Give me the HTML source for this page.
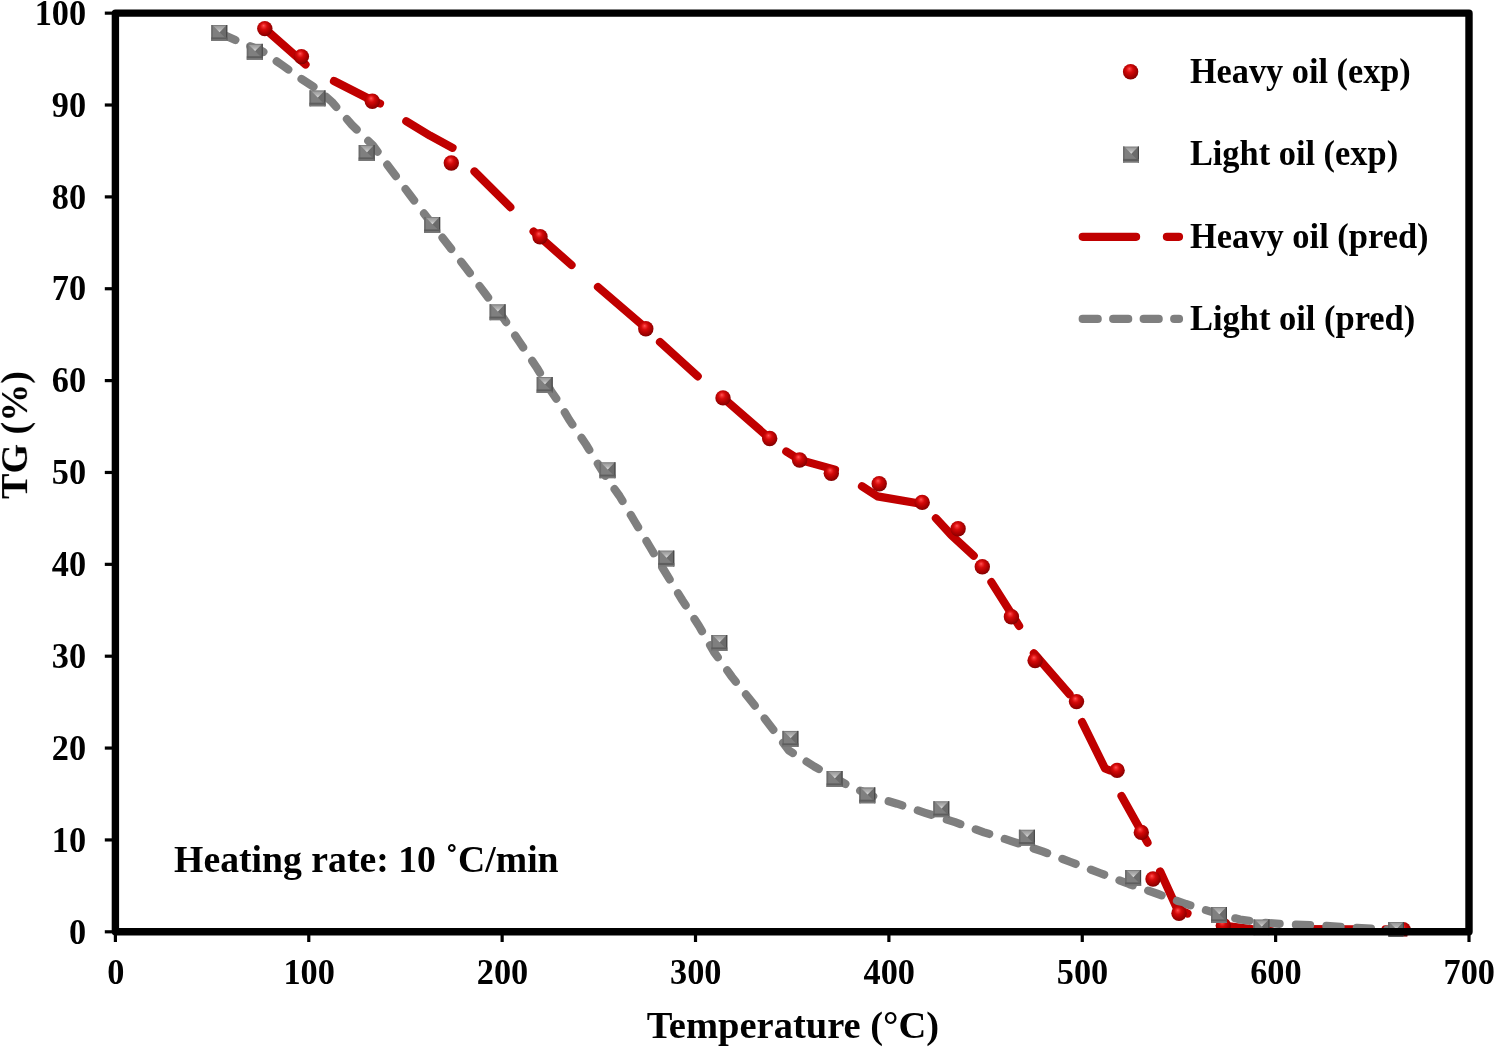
<!DOCTYPE html>
<html><head><meta charset="utf-8"><title>TG chart</title>
<style>
html,body{margin:0;padding:0;background:#fff;}
body{width:1494px;height:1047px;overflow:hidden;}
svg{display:block;}
text{font-family:"Liberation Serif",serif;font-weight:bold;fill:#000;}
</style></head><body>
<svg width="1494" height="1047" viewBox="0 0 1494 1047">
<defs>
<radialGradient id="sph" cx="0.45" cy="0.42" r="0.62" fx="0.42" fy="0.30">
<stop offset="0" stop-color="#ff5858"/>
<stop offset="0.14" stop-color="#f23030"/>
<stop offset="0.36" stop-color="#d40a0a"/>
<stop offset="0.62" stop-color="#b40202"/>
<stop offset="0.86" stop-color="#920000"/>
<stop offset="1" stop-color="#6c0000"/>
</radialGradient>
<linearGradient id="sqtop" x1="0" y1="0" x2="0" y2="1">
<stop offset="0" stop-color="#9a9a9a"/>
<stop offset="0.55" stop-color="#b4b4b4"/>
<stop offset="1" stop-color="#e2e2e2"/>
</linearGradient>
<symbol id="sq" width="16" height="16" viewBox="0 0 16 16" overflow="visible">
<rect x="0" y="0" width="16" height="16" fill="#7f7f7f"/>
<rect x="0" y="0" width="1.6" height="16" fill="#6c6c6c"/>
<polygon points="8.3,7.2 14.8,0.8 14.8,12.6 13.6,12.6" fill="#6b6b6b"/>
<polygon points="2.2,1.1 14.2,1.1 8.3,7.2" fill="url(#sqtop)"/>
<rect x="14.8" y="0" width="1.2" height="16" fill="#444"/>
<rect x="0" y="12.4" width="16" height="2.1" fill="#5e5e5e"/>
<rect x="0" y="14.5" width="16" height="1.5" fill="#787878"/>
</symbol>
<clipPath id="cl"><rect x="0" y="0" width="1494" height="935.3"/></clipPath>
</defs>
<rect width="1494" height="1047" fill="#fff"/>

<g clip-path="url(#cl)">
<g fill="none" stroke="#c00000" stroke-width="8.2" stroke-linecap="round" stroke-linejoin="round">
<polyline points="264.8,28.6 305.5,64.5"/>
<polyline points="334.0,81.0 372.3,100.5 380.0,103.5"/>
<polyline points="406.3,121.2 430.1,135.7 452.5,147.8"/>
<polyline points="474.5,171.5 510.3,207.2"/>
<polyline points="533.6,231.5 571.5,265.0"/>
<polyline points="598.0,287.0 644.0,326.5"/>
<polyline points="660.0,342.0 697.7,376.3"/>
<polyline points="721.0,396.0 768.5,437.5"/>
<polyline points="786.3,451.5 799.7,459.9 835.0,469.6"/>
<polyline points="862.0,486.3 877.5,496.4 922.2,504.0"/>
<polyline points="935.9,518.3 951.2,534.9 973.7,555.7"/>
<polyline points="991.4,582.1 1019.1,625.9"/>
<polyline points="1033.9,653.3 1069.5,694.2"/>
<polyline points="1082.1,722.1 1105.0,768.5 1110.0,770.5"/>
<polyline points="1121.5,796.0 1147.5,842.6"/>
<polyline points="1160.2,871.5 1177.0,908.5 1187.5,913.5"/>
<polyline points="1223.3,925.5 1255.0,929.5 1271.0,931.0"/>
<polyline points="1302.0,929.0 1356.0,929.3"/>
<polyline points="1385.5,929.3 1403.0,930.0"/>
</g>
<polyline points="219.3,33.0 240.0,42.0 262.0,51.0 282.0,65.0 300.0,78.0 317.0,89.0 332.0,102.0 352.0,125.0 373.0,145.5 392.0,171.0 410.0,195.0 429.0,220.0 447.0,243.5 466.0,268.0 484.0,292.0 502.0,316.0 519.5,342.0 537.0,368.0 551.0,391.0 558.3,401.5 569.0,419.5 586.0,444.5 598.0,464.0 608.0,480.0 619.5,496.0 635.0,522.0 650.0,547.0 659.3,562.5 670.0,580.0 682.5,600.5 699.0,626.0 714.0,652.0 732.0,677.0 752.0,702.0 770.0,725.5 788.9,750.5 814.5,766.6 848.6,785.7 876.7,797.7 897.0,803.7 925.0,812.8 955.0,822.2 984.0,832.3 1012.0,841.3 1042.5,851.4 1070.6,862.0 1099.8,873.0 1129.0,884.0 1158.0,894.0 1186.0,904.0 1220.0,914.5 1240.0,919.5 1262.0,922.5 1285.0,924.2 1320.0,925.5 1350.0,927.5 1376.0,929.0 1396.0,930.0" fill="none" stroke="#7f7f7f" stroke-width="8.2" stroke-linecap="round" stroke-linejoin="round" stroke-dasharray="14.2 16.3" stroke-dashoffset="-3.3"/>
<g>
<circle cx="264.8" cy="28.6" r="7.7" fill="url(#sph)"/>
<circle cx="301.4" cy="56.6" r="7.7" fill="url(#sph)"/>
<circle cx="372.3" cy="101.3" r="7.7" fill="url(#sph)"/>
<circle cx="451.3" cy="163.0" r="7.7" fill="url(#sph)"/>
<circle cx="540.0" cy="236.8" r="7.7" fill="url(#sph)"/>
<circle cx="645.8" cy="328.8" r="7.7" fill="url(#sph)"/>
<circle cx="723.0" cy="397.9" r="7.7" fill="url(#sph)"/>
<circle cx="769.7" cy="438.5" r="7.7" fill="url(#sph)"/>
<circle cx="799.6" cy="460.0" r="7.7" fill="url(#sph)"/>
<circle cx="831.3" cy="473.3" r="7.7" fill="url(#sph)"/>
<circle cx="879.2" cy="483.8" r="7.7" fill="url(#sph)"/>
<circle cx="922.2" cy="502.4" r="7.7" fill="url(#sph)"/>
<circle cx="958.1" cy="528.8" r="7.7" fill="url(#sph)"/>
<circle cx="982.3" cy="566.8" r="7.7" fill="url(#sph)"/>
<circle cx="1011.4" cy="616.8" r="7.7" fill="url(#sph)"/>
<circle cx="1035.1" cy="660.5" r="7.7" fill="url(#sph)"/>
<circle cx="1076.5" cy="701.6" r="7.7" fill="url(#sph)"/>
<circle cx="1117.1" cy="770.4" r="7.7" fill="url(#sph)"/>
<circle cx="1141.3" cy="832.4" r="7.7" fill="url(#sph)"/>
<circle cx="1153.0" cy="879.0" r="7.7" fill="url(#sph)"/>
<circle cx="1179.0" cy="913.3" r="7.7" fill="url(#sph)"/>
<circle cx="1223.3" cy="925.5" r="7.7" fill="url(#sph)"/>
<circle cx="1403.2" cy="929.8" r="7.7" fill="url(#sph)"/>
</g><g>
<use href="#sq" x="211.3" y="25.0"/>
<use href="#sq" x="246.8" y="43.8"/>
<use href="#sq" x="309.5" y="90.3"/>
<use href="#sq" x="358.7" y="145.0"/>
<use href="#sq" x="424.2" y="217.0"/>
<use href="#sq" x="489.6" y="304.2"/>
<use href="#sq" x="536.7" y="377.0"/>
<use href="#sq" x="599.5" y="462.2"/>
<use href="#sq" x="658.3" y="550.5"/>
<use href="#sq" x="711.3" y="635.0"/>
<use href="#sq" x="782.4" y="730.9"/>
<use href="#sq" x="826.6" y="771.0"/>
<use href="#sq" x="859.3" y="787.3"/>
<use href="#sq" x="933.3" y="801.2"/>
<use href="#sq" x="1018.9" y="829.7"/>
<use href="#sq" x="1125.1" y="870.0"/>
<use href="#sq" x="1211.0" y="907.0"/>
<use href="#sq" x="1253.5" y="919.4"/>
<use href="#sq" x="1388.0" y="922.0"/>
</g>
</g>
<rect x="1388.2" y="935" width="15.6" height="1.9" fill="#4a4a4a"/><rect x="1403.8" y="935" width="3.6" height="1.6" fill="#7a0808"/>
<rect x="115.4" y="13.15" width="1353.60" height="918.65" fill="none" stroke="#000" stroke-width="7.4" stroke-linejoin="round"/>
<g stroke="#000" stroke-width="3.2">
<line x1="115.40" y1="931.80" x2="115.40" y2="942.00"/>
<line x1="308.77" y1="931.80" x2="308.77" y2="942.00"/>
<line x1="502.14" y1="931.80" x2="502.14" y2="942.00"/>
<line x1="695.51" y1="931.80" x2="695.51" y2="942.00"/>
<line x1="888.89" y1="931.80" x2="888.89" y2="942.00"/>
<line x1="1082.26" y1="931.80" x2="1082.26" y2="942.00"/>
<line x1="1275.63" y1="931.80" x2="1275.63" y2="942.00"/>
<line x1="1469.00" y1="931.80" x2="1469.00" y2="942.00"/>
<line x1="104.80" y1="931.80" x2="115.40" y2="931.80"/>
<line x1="104.80" y1="839.93" x2="115.40" y2="839.93"/>
<line x1="104.80" y1="748.07" x2="115.40" y2="748.07"/>
<line x1="104.80" y1="656.20" x2="115.40" y2="656.20"/>
<line x1="104.80" y1="564.34" x2="115.40" y2="564.34"/>
<line x1="104.80" y1="472.47" x2="115.40" y2="472.47"/>
<line x1="104.80" y1="380.61" x2="115.40" y2="380.61"/>
<line x1="104.80" y1="288.74" x2="115.40" y2="288.74"/>
<line x1="104.80" y1="196.88" x2="115.40" y2="196.88"/>
<line x1="104.80" y1="105.01" x2="115.40" y2="105.01"/>
<line x1="104.80" y1="13.15" x2="115.40" y2="13.15"/>
</g>
<g style="opacity:0.999">
<g font-size="35.5" text-anchor="end">
<text transform="translate(86.1,943.50) scale(0.965,1)">0</text>
<text transform="translate(86.1,851.63) scale(0.965,1)">10</text>
<text transform="translate(86.1,759.77) scale(0.965,1)">20</text>
<text transform="translate(86.1,667.90) scale(0.965,1)">30</text>
<text transform="translate(86.1,576.04) scale(0.965,1)">40</text>
<text transform="translate(86.1,484.17) scale(0.965,1)">50</text>
<text transform="translate(86.1,392.31) scale(0.965,1)">60</text>
<text transform="translate(86.1,300.44) scale(0.965,1)">70</text>
<text transform="translate(86.1,208.58) scale(0.965,1)">80</text>
<text transform="translate(86.1,116.71) scale(0.965,1)">90</text>
<text transform="translate(86.1,24.85) scale(0.965,1)">100</text>
</g>
<g font-size="35.5" text-anchor="middle">
<text transform="translate(115.70,984.3) scale(0.965,1)">0</text>
<text transform="translate(309.07,984.3) scale(0.965,1)">100</text>
<text transform="translate(502.44,984.3) scale(0.965,1)">200</text>
<text transform="translate(695.81,984.3) scale(0.965,1)">300</text>
<text transform="translate(889.19,984.3) scale(0.965,1)">400</text>
<text transform="translate(1082.56,984.3) scale(0.965,1)">500</text>
<text transform="translate(1275.93,984.3) scale(0.965,1)">600</text>
<text transform="translate(1469.30,984.3) scale(0.965,1)">700</text>
</g>
<text x="646.7" y="1037.5" font-size="37.9" textLength="292.5" lengthAdjust="spacingAndGlyphs">Temperature (°C)</text>
<text transform="translate(27.1,499) rotate(-90)" font-size="37.9" textLength="128" lengthAdjust="spacingAndGlyphs">TG (%)</text>
<text x="174.1" y="872.2" font-size="37.9" textLength="384.5" lengthAdjust="spacingAndGlyphs">Heating rate: 10 ˚C/min</text>
<text x="1189.9" y="82.7" font-size="34.8" textLength="220.9" lengthAdjust="spacingAndGlyphs">Heavy oil (exp)</text>
<text x="1189.9" y="164.7" font-size="34.8" textLength="208.2" lengthAdjust="spacingAndGlyphs">Light oil (exp)</text>
<text x="1189.9" y="247.6" font-size="34.8" textLength="238.7" lengthAdjust="spacingAndGlyphs">Heavy oil (pred)</text>
<text x="1189.9" y="329.7" font-size="34.8" textLength="225.4" lengthAdjust="spacingAndGlyphs">Light oil (pred)</text>
</g>
<circle cx="1130.6" cy="71.8" r="7.7" fill="url(#sph)"/>
<use href="#sq" x="1123.0" y="146.5"/>
<line x1="1082.7" y1="236.8" x2="1179.0" y2="236.8" stroke="#c00000" stroke-width="8.2" stroke-linecap="round" stroke-dasharray="53.4 30.8"/>
<line x1="1082.7" y1="318.9" x2="1179.0" y2="318.9" stroke="#7f7f7f" stroke-width="8.2" stroke-linecap="round" stroke-dasharray="15.0 15.5"/>
</svg></body></html>
